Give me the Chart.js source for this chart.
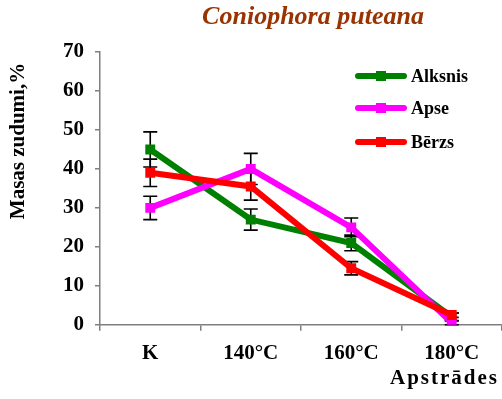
<!DOCTYPE html>
<html>
<head>
<meta charset="utf-8">
<script src="https://cdn.jsdelivr.net/npm/chart.js@4/dist/chart.umd.min.js"></script>
<style>
  html, body { margin: 0; padding: 0; background: #fff; }
  #wrap { width: 502px; height: 399px; }
</style>
</head>
<body>
<div id="wrap"><canvas id="masasChart" width="502" height="399"></canvas></div>
<script>
const labels = ["K", "140°C", "160°C", "180°C"];

const alksnis = [45, 27, 21, 2];
const apse = [30, 40, 25, 0.5];
const berzs = [39, 35.5, 14.5, 2.5];

const alksnisErr = [4.5, 2.7, 2, 1];
const apseErr = [3, 4, 2.4, 0.6];
const berzsErr = [3.5, 3.5, 1.7, 0.6];

const yTicks = [0, 10, 20, 30, 40, 50, 60, 70];

const serif = "'Liberation Serif', 'Times New Roman', serif";

// vertical error bars with caps, drawn under the lines
const errorBars = {
    id: "errorBars",
    beforeDatasetsDraw(chart) {
        const ctx = chart.ctx;
        const y = chart.scales.y;
        ctx.save();
        ctx.strokeStyle = "#000";
        ctx.lineWidth = 1.6;
        chart.data.datasets.forEach((ds, i) => {
            const meta = chart.getDatasetMeta(i);
            meta.data.forEach((pt, j) => {
                const v = ds.data[j], e = ds.errors[j];
                const top = y.getPixelForValue(v + e);
                const bot = y.getPixelForValue(Math.max(0, v - e));
                ctx.beginPath();
                ctx.moveTo(pt.x, top); ctx.lineTo(pt.x, bot);
                ctx.moveTo(pt.x - 7, top); ctx.lineTo(pt.x + 7, top);
                ctx.moveTo(pt.x - 7, bot); ctx.lineTo(pt.x + 7, bot);
                ctx.stroke();
            });
        });
        ctx.restore();
    }
};

// title, axis titles and legend
const decorations = {
    id: "decorations",
    afterDraw(chart) {
        const ctx = chart.ctx;
        ctx.save();

        ctx.fillStyle = "#993300";
        ctx.font = "italic bold 26px " + serif;
        ctx.textAlign = "center";
        ctx.textBaseline = "middle";
        ctx.fillText("Coniophora puteana", 313, 17);

        ctx.fillStyle = "#000";
        ctx.font = "bold 21px " + serif;
        ctx.save();
        ctx.translate(19, 141);
        ctx.rotate(-Math.PI / 2);
        ctx.fillText("Masas zudumi,%", 0, 0);
        ctx.restore();

        ctx.letterSpacing = "2px";
        ctx.textAlign = "right";
        ctx.fillText("Apstrādes", 499, 379);
        ctx.letterSpacing = "0px";

        ctx.font = "bold 18px " + serif;
        ctx.textAlign = "left";
        const rows = [76, 108, 142];
        chart.data.datasets.forEach((ds, i) => {
            const yy = rows[i];
            ctx.strokeStyle = ds.borderColor;
            ctx.lineWidth = 6;
            ctx.lineCap = "round";
            ctx.beginPath();
            ctx.moveTo(358, yy); ctx.lineTo(404, yy);
            ctx.stroke();
            ctx.fillStyle = ds.borderColor;
            ctx.fillRect(376, yy - 5, 10, 10);
            ctx.fillStyle = "#000";
            ctx.fillText(ds.label, 411, yy + 1);
        });
        ctx.restore();
    }
};

new Chart(document.getElementById("masasChart"), {
    type: "line",
    data: {
        labels: labels,
        datasets: [
            { label: "Alksnis", data: alksnis, errors: alksnisErr, borderColor: "#008000", backgroundColor: "#008000", order: 2 },
            { label: "Apse", data: apse, errors: apseErr, borderColor: "#ff00ff", backgroundColor: "#ff00ff", order: 1 },
            { label: "Bērzs", data: berzs, errors: berzsErr, borderColor: "#ff0000", backgroundColor: "#ff0000", order: 0 }
        ]
    },
    options: {
        responsive: false,
        animation: false,
        devicePixelRatio: 1,
        layout: { autoPadding: false, padding: { left: 52, top: 52, right: -5, bottom: 23 } },
        elements: {
            line: { borderWidth: 6, tension: 0 },
            point: { pointStyle: "rect", radius: 7, borderWidth: 0 }
        },
        plugins: {
            legend: { display: false },
            tooltip: { enabled: false }
        },
        scales: {
            x: {
                offset: true,
                // the plot runs off the right edge of the canvas
                afterFit(scale) { scale.paddingRight = -5; },
                grid: { offset: true, drawOnChartArea: false, tickLength: 6, color: "#7f7f7f", lineWidth: 1.5 },
                border: { color: "#7f7f7f", width: 1.5 },
                ticks: { color: "#000", padding: 10, font: { family: serif, size: 21, weight: "bold" }, maxRotation: 0 }
            },
            y: {
                min: 0,
                max: 70,
                afterBuildTicks(scale) { scale.ticks = yTicks.map(v => ({ value: v })); },
                grid: { drawOnChartArea: false, tickLength: 5, color: "#7f7f7f", lineWidth: 1.5 },
                border: { color: "#7f7f7f", width: 1.5 },
                ticks: { color: "#000", padding: 11, font: { family: serif, size: 21, weight: "bold" } }
            }
        }
    },
    plugins: [errorBars, decorations]
});
</script>
</body>
</html>
